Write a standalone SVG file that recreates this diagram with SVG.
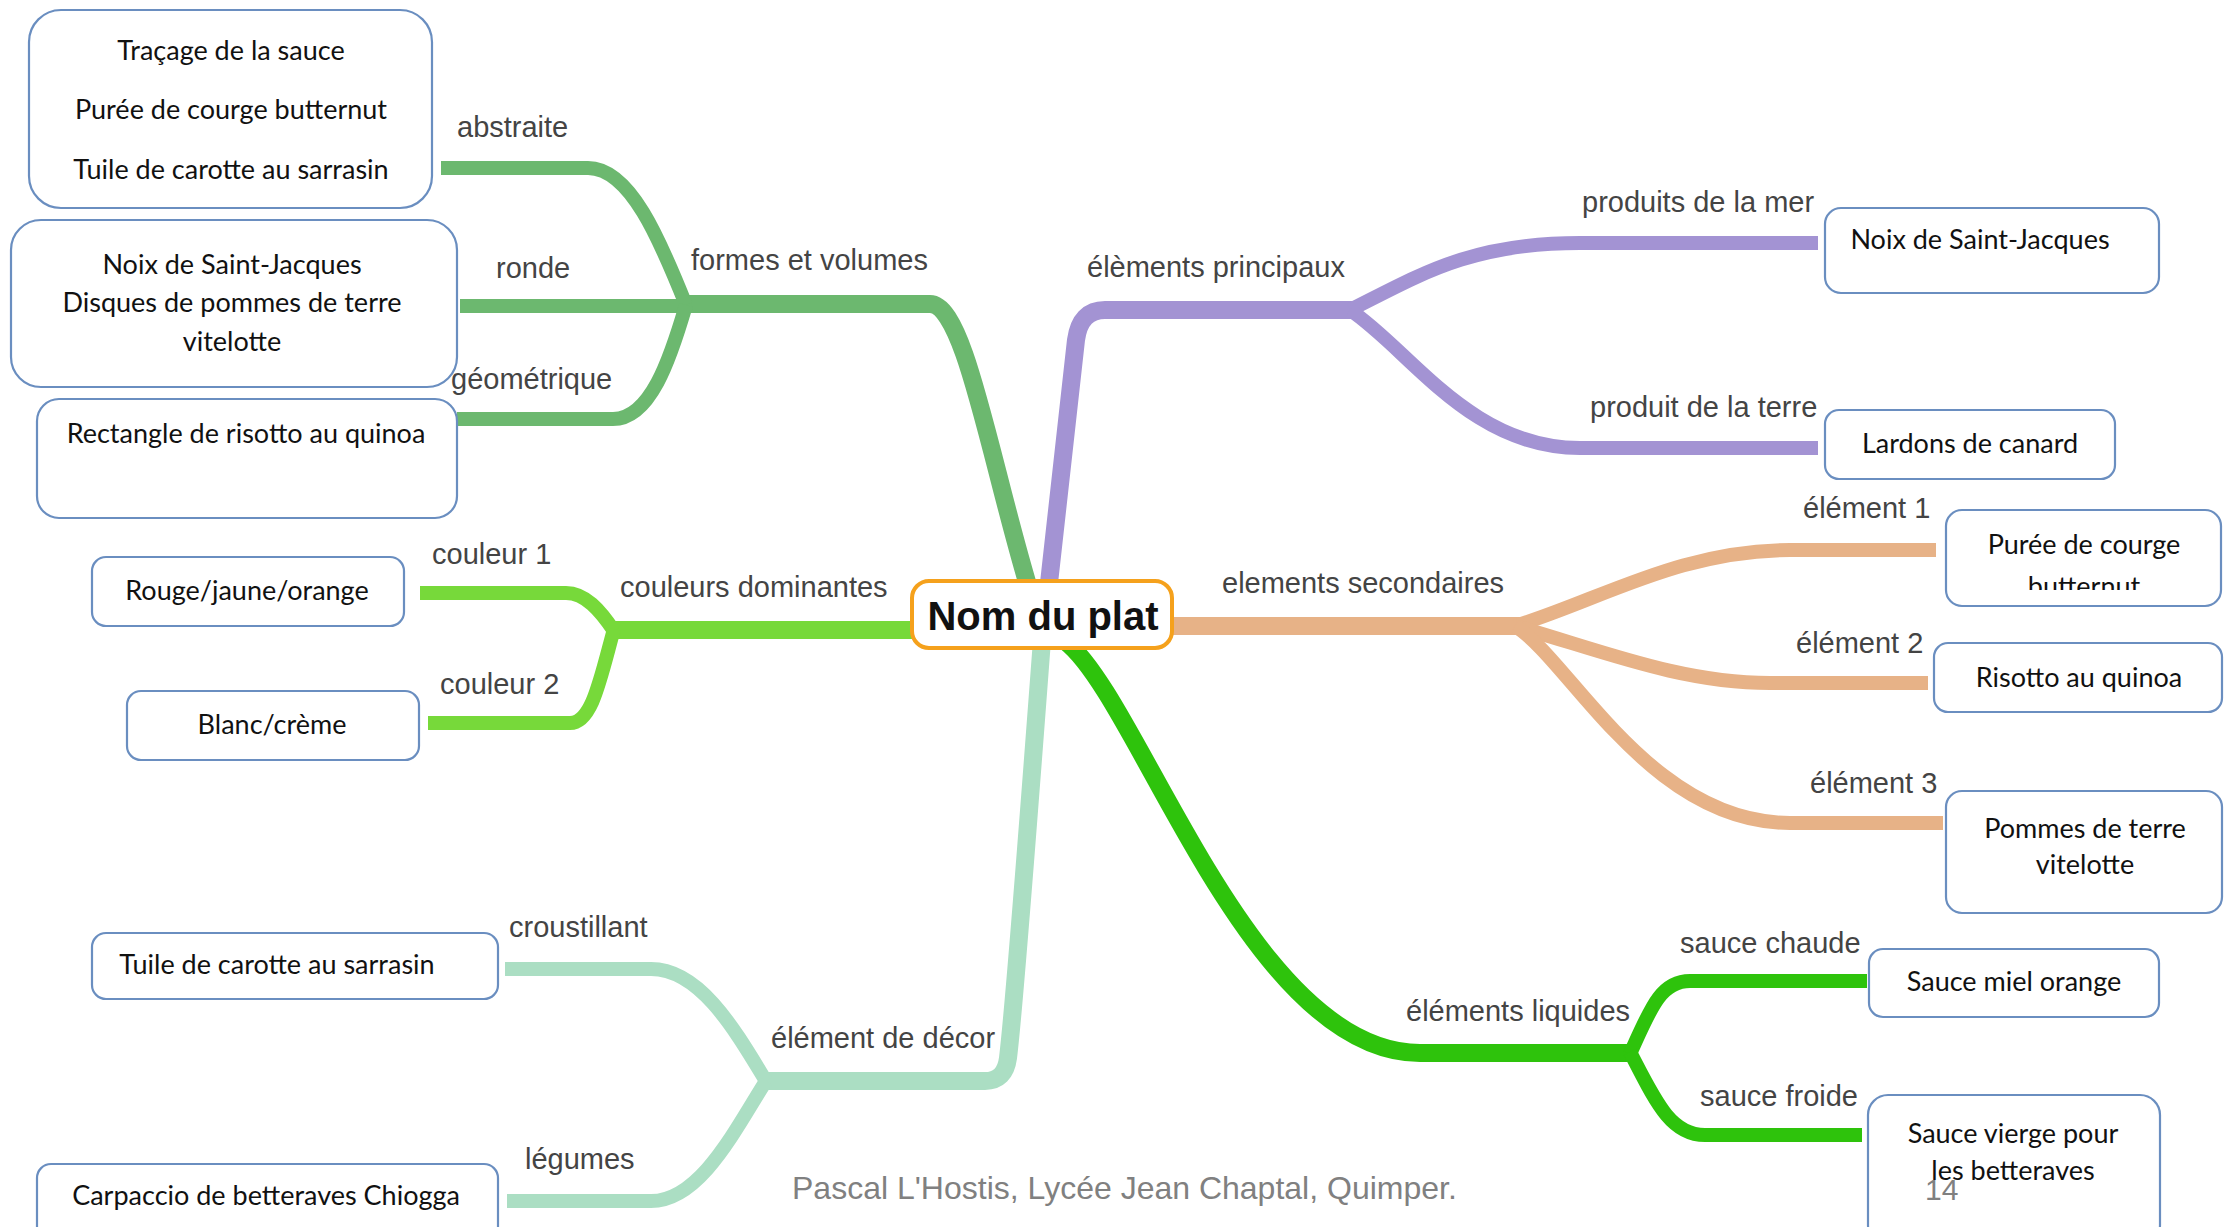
<svg xmlns="http://www.w3.org/2000/svg" width="2224" height="1227" viewBox="0 0 2224 1227">
<defs>
<style>
.box{fill:#fff;stroke:#6a8ec0;stroke-width:2.2}
.nt{font-family:Lato,"Liberation Sans",sans-serif;font-size:27px;fill:#111;text-anchor:middle}
.lb{font-family:"Liberation Sans",Arial,sans-serif;font-size:29px;fill:#444}
.c{fill:none;stroke-linecap:butt;stroke-linejoin:round}
.m{stroke-width:18}
.s{stroke-width:14}
.g1{stroke:#6cb86f}
.g2{stroke:#77d93a}
.g3{stroke:#abdec3}
.pu{stroke:#a393d3}
.or{stroke:#e7b287}
.g4{stroke:#2ec30c}
.ft{font-family:"Liberation Sans",Arial,sans-serif;fill:#808080}
</style>
<clipPath id="clipPuree"><rect x="1946" y="510" width="278" height="80"/></clipPath>
</defs>
<rect width="2224" height="1227" fill="#fff"/>

<g id="connectors">
  <!-- formes et volumes -->
  <path class="c m g1" d="M684 304 H930 C965 304 990 460 1030 592"/>
  <path class="c s g1" d="M686 305 C660 240 630 168 588 168 H441"/>
  <path class="c s g1" d="M686 306 H460"/>
  <path class="c s g1" d="M686 305 C670 360 650 419 613 419 H457"/>
  <!-- couleurs dominantes -->
  <path class="c m g2" d="M915 630 H610"/>
  <path class="c s g2" d="M614 631 C600 610 585 593 566 593 H420"/>
  <path class="c s g2" d="M614 629 C600 680 592 723 570 723 H428"/>
  <!-- element de decor -->
  <path class="c m g3" d="M1042 640 C1030 800 1015 1000 1008 1058 Q1005 1081 985 1081 H762"/>
  <path class="c s g3" d="M766 1081 C735 1030 700 969 651 969 H505"/>
  <path class="c s g3" d="M766 1081 C735 1130 700 1201 651 1201 H507"/>
  <!-- elements principaux -->
  <path class="c m pu" d="M1048 592 L1076 340 Q1080 310 1105 310 H1356"/>
  <path class="c s pu" d="M1350 310 C1420 275 1470 243 1580 243 H1818"/>
  <path class="c s pu" d="M1350 310 C1410 350 1470 448 1580 448 H1818"/>
  <!-- elements secondaires -->
  <path class="c m or" d="M1170 626 H1520"/>
  <path class="c s or" d="M1515 626 C1600 600 1680 550 1790 550 H1936"/>
  <path class="c s or" d="M1515 626 C1600 650 1680 683 1770 683 H1928"/>
  <path class="c s or" d="M1515 626 C1570 660 1650 823 1790 823 H1943"/>
  <!-- elements liquides -->
  <path class="c m g4" d="M1066 642 C1140 700 1250 1053 1420 1053 H1634"/>
  <path class="c s g4" d="M1630 1054 C1650 1010 1660 981 1690 981 H1867"/>
  <path class="c s g4" d="M1630 1052 C1655 1100 1670 1135 1705 1135 H1862"/>
</g>

<g id="labels">
  <text class="lb" x="457" y="137">abstraite</text>
  <text class="lb" x="496" y="278">ronde</text>
  <text class="lb" x="451" y="389">géométrique</text>
  <text class="lb" x="691" y="270">formes et volumes</text>
  <text class="lb" x="432" y="564">couleur 1</text>
  <text class="lb" x="620" y="597">couleurs dominantes</text>
  <text class="lb" x="440" y="694">couleur 2</text>
  <text class="lb" x="509" y="937">croustillant</text>
  <text class="lb" x="771" y="1048">élément de décor</text>
  <text class="lb" x="525" y="1169">légumes</text>
  <text class="lb" x="1087" y="277">élèments principaux</text>
  <text class="lb" x="1582" y="212">produits de la mer</text>
  <text class="lb" x="1590" y="417">produit de la terre</text>
  <text class="lb" x="1222" y="593">elements secondaires</text>
  <text class="lb" x="1803" y="518">élément 1</text>
  <text class="lb" x="1796" y="653">élément 2</text>
  <text class="lb" x="1810" y="793">élément 3</text>
  <text class="lb" x="1406" y="1021">éléments liquides</text>
  <text class="lb" x="1680" y="953">sauce chaude</text>
  <text class="lb" x="1700" y="1106">sauce froide</text>
</g>

<g id="center">
  <rect x="912" y="581" width="260" height="67" rx="17" fill="#fff" stroke="#f5a11c" stroke-width="4"/>
  <text x="1043" y="630" font-family="'Liberation Sans',Arial,sans-serif" font-size="40" font-weight="bold" fill="#111" text-anchor="middle">Nom du plat</text>
</g>

<g id="node-formes-abstraite">
  <rect class="box" x="29" y="10" width="403" height="198" rx="32"/>
  <text class="nt" x="231" y="60">Traçage de la sauce</text>
  <text class="nt" x="231" y="119">Purée de courge butternut</text>
  <text class="nt" x="231" y="179">Tuile de carotte au sarrasin</text>
</g>
<g id="node-formes-ronde">
  <rect class="box" x="11" y="220" width="446" height="167" rx="30"/>
  <text class="nt" x="232" y="274">Noix de Saint-Jacques</text>
  <text class="nt" x="232" y="312">Disques de pommes de terre</text>
  <text class="nt" x="232" y="351">vitelotte</text>
</g>
<g id="node-formes-geometrique">
  <rect class="box" x="37" y="399" width="420" height="119" rx="22"/>
  <text class="nt" x="246" y="443">Rectangle de risotto au quinoa</text>
</g>
<g id="node-couleur1">
  <rect class="box" x="92" y="557" width="312" height="69" rx="14"/>
  <text class="nt" x="247" y="600">Rouge/jaune/orange</text>
</g>
<g id="node-couleur2">
  <rect class="box" x="127" y="691" width="292" height="69" rx="14"/>
  <text class="nt" x="272" y="734">Blanc/crème</text>
</g>
<g id="node-croustillant">
  <rect class="box" x="92" y="933" width="406" height="66" rx="14"/>
  <text class="nt" x="277" y="974">Tuile de carotte au sarrasin</text>
</g>
<g id="node-legumes">
  <rect class="box" x="37" y="1164" width="461" height="90" rx="14"/>
  <text class="nt" x="266" y="1205">Carpaccio de betteraves Chiogga</text>
</g>
<g id="node-mer">
  <rect class="box" x="1825" y="208" width="334" height="85" rx="16"/>
  <text class="nt" x="1980" y="249">Noix de Saint-Jacques</text>
</g>
<g id="node-terre">
  <rect class="box" x="1825" y="410" width="290" height="69" rx="14"/>
  <text class="nt" x="1970" y="453">Lardons de canard</text>
</g>
<g id="node-element1">
  <rect class="box" x="1946" y="510" width="275" height="96" rx="16"/>
  <g clip-path="url(#clipPuree)">
    <text class="nt" x="2084" y="554">Purée de courge</text>
    <text class="nt" x="2084" y="596">butternut</text>
  </g>
</g>
<g id="node-element2">
  <rect class="box" x="1934" y="643" width="288" height="69" rx="14"/>
  <text class="nt" x="2079" y="687">Risotto au quinoa</text>
</g>
<g id="node-element3">
  <rect class="box" x="1946" y="791" width="276" height="122" rx="16"/>
  <text class="nt" x="2085" y="838">Pommes de terre</text>
  <text class="nt" x="2085" y="874">vitelotte</text>
</g>
<g id="node-chaude">
  <rect class="box" x="1869" y="949" width="290" height="68" rx="14"/>
  <text class="nt" x="2014" y="991">Sauce miel orange</text>
</g>
<g id="node-froide">
  <rect class="box" x="1868" y="1095" width="292" height="150" rx="20"/>
  <text class="nt" x="2013" y="1143">Sauce vierge pour</text>
  <text class="nt" x="2013" y="1180">les betteraves</text>
</g>

<g id="footer">
  <text class="ft" x="792" y="1199" font-size="32">Pascal L'Hostis, Lycée Jean Chaptal, Quimper.</text>
  <text class="ft" x="1925" y="1200" font-size="30">14</text>
</g>
</svg>
